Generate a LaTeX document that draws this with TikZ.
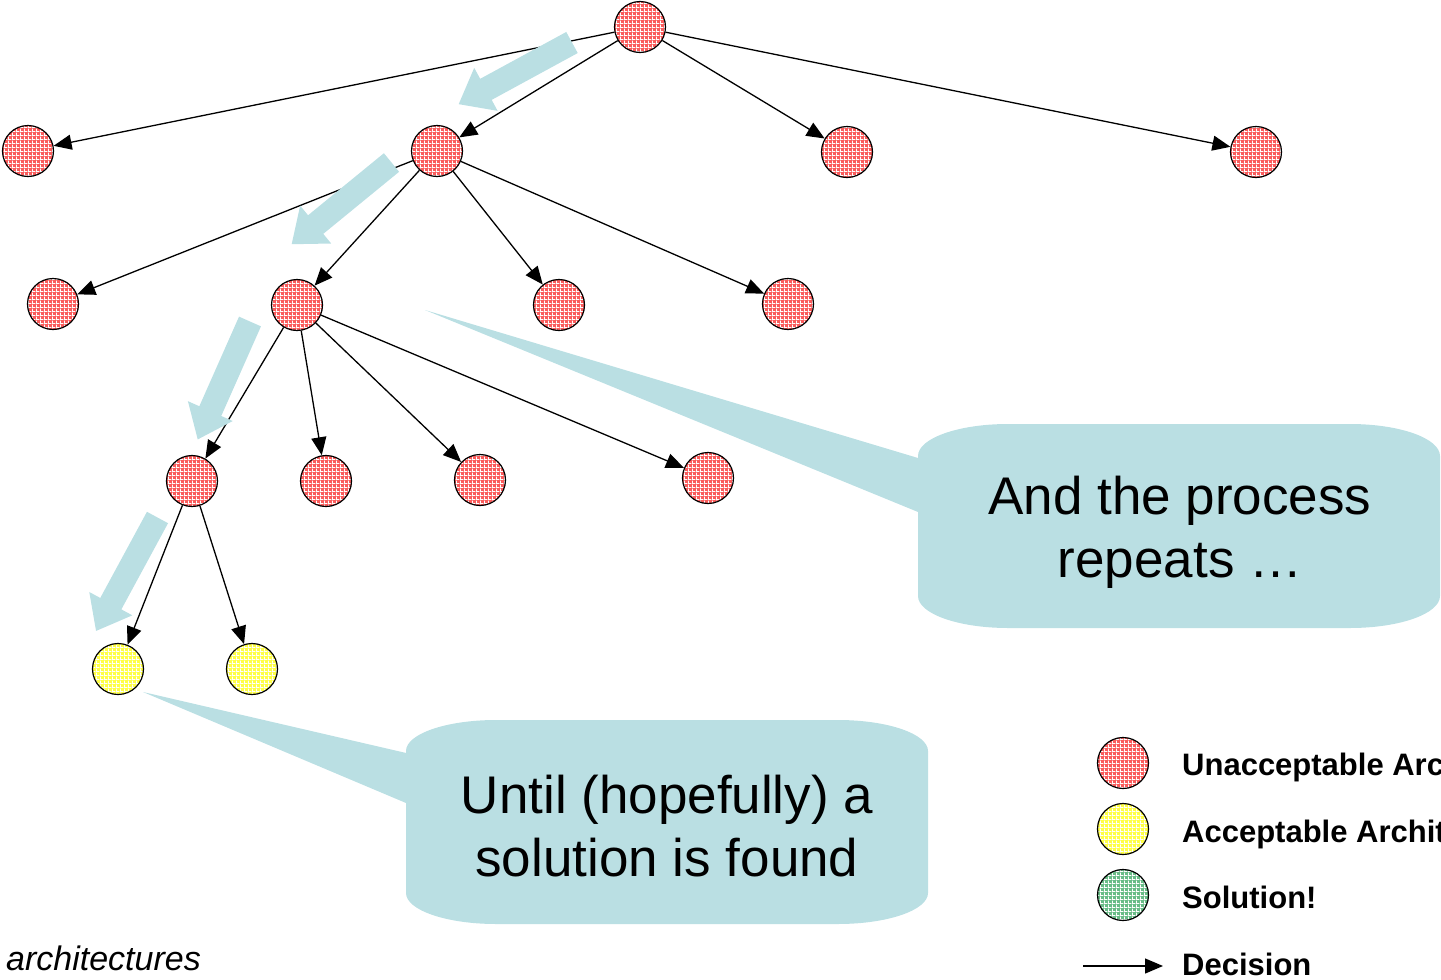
\documentclass[tikz,border=0pt]{standalone}
\usepackage{fontspec}
\setmainfont{Liberation Sans}
\usetikzlibrary{arrows.meta,patterns}
\definecolor{badfill}{RGB}{250,92,92}
\definecolor{okfill}{RGB}{255,255,70}
\definecolor{solfill}{RGB}{105,188,135}
\definecolor{calloutblue}{RGB}{186,223,227}
% fine white mesh laid over the state fills
\pgfdeclarepatternformonly{cellgrid}{\pgfpointorigin}{\pgfqpoint{4pt}{4pt}}{\pgfqpoint{4pt}{4pt}}{%
  \pgfpathrectangle{\pgfpointorigin}{\pgfqpoint{4pt}{1.1pt}}%
  \pgfpathrectangle{\pgfpointorigin}{\pgfqpoint{1.1pt}{4pt}}%
  \pgfusepath{fill}}
\tikzset{
  state/.style={circle, draw=black, line width=1.2pt, minimum size=51pt,
    inner sep=0pt, pattern=cellgrid, pattern color=white},
  bad/.style={state, preaction={fill=badfill}},
  ok/.style={state, preaction={fill=okfill}},
  sol/.style={state, preaction={fill=solfill}},
  decision/.style={line width=1.3pt, -{Triangle[length=18pt,width=15pt]}},
  bubbletext/.style={font=\fontsize{53}{63}\selectfont, anchor=base, inner sep=0pt},
  legendtext/.style={font=\fontsize{31}{37}\selectfont\bfseries, anchor=base west, inner sep=0pt},
  blockarrow/.pic={\fill[calloutblue] (0,-12) -- (98,-12) -- (98,-24.5) -- (129,0)
    -- (98,24.5) -- (98,12) -- (0,12) -- cycle;}
}
\begin{document}
\begin{tikzpicture}[x=1pt,y=-1pt]
\useasboundingbox (0,0) rectangle (1441,980);

% search tree
\node[bad] (r)   at (640,27) {};
\node[bad] (a1)  at (28,151) {};
\node[bad] (a2)  at (437,151) {};
\node[bad] (a3)  at (847,152) {};
\node[bad] (a4)  at (1256,152) {};
\node[bad] (b1)  at (53,304) {};
\node[bad] (b2)  at (297,305) {};
\node[bad] (b3)  at (559,305) {};
\node[bad] (b4)  at (788,304) {};
\node[bad] (c1)  at (192,481) {};
\node[bad] (c2)  at (326,481) {};
\node[bad] (c3)  at (480,480) {};
\node[bad] (c4)  at (708,478) {};
\node[ok]  (d1)  at (118,669) {};
\node[ok]  (d2)  at (252,669) {};

\foreach \p/\c in {r/a1, r/a2, r/a3, r/a4, a2/b1, a2/b2, a2/b3, a2/b4,
                   b2/c1, b2/c2, b2/c3, b2/c4, c1/d1, c1/d2}
  \draw[decision] (\p) -- (\c);

% path followed through the tree
\pic[rotate=208.56] at (572,42.5) {blockarrow};
\pic[rotate=219.3]  at (391.5,162.5) {blockarrow};
\pic[rotate=246.1]  at (250,321.5) {blockarrow};
\pic[rotate=241.55] at (157.5,517.5) {blockarrow};

% callout: the process repeats
\coordinate (tipA) at (425,310);
\fill[calloutblue] (tipA) -- (930,461.6) -- (930,516.9) -- cycle;
\fill[calloutblue] (1008,424) -- (1350,424) .. controls (1399.7,424) and (1440,438.3) .. (1440,456)
  -- (1440,596) .. controls (1440,613.7) and (1399.7,628) .. (1350,628)
  -- (1008,628) .. controls (958.3,628) and (918,613.7) .. (918,596)
  -- (918,456) .. controls (918,438.3) and (958.3,424) .. (1008,424) -- cycle;
\node[bubbletext] (rep1) at (1180,514) {And the process};
\node[bubbletext] (rep2) at (1180,577) {repeats …};

% callout: a solution is found
\coordinate (tipB) at (143,692);
\fill[calloutblue] (tipB) -- (420,756.2) -- (420,808.9) -- cycle;
\fill[calloutblue] (496,720) -- (838,720) .. controls (887.7,720) and (928,733.9) .. (928,751)
  -- (928,893) .. controls (928,910.1) and (887.7,924) .. (838,924)
  -- (496,924) .. controls (446.3,924) and (406,910.1) .. (406,893)
  -- (406,751) .. controls (406,733.9) and (446.3,720) .. (496,720) -- cycle;
\node[bubbletext] (sol1) at (667,813) {Until (hopefully) a};
\node[bubbletext] (sol2) at (667,876) {solution is found};

% legend
\node[bad] (kbad) at (1123,763) {};
\node[ok]  (kok)  at (1123,829) {};
\node[sol] (ksol) at (1123,895) {};
\coordinate (ka) at (1083,966);
\coordinate (kb) at (1163,966);
\draw[decision] (ka) -- (kb);
\node[legendtext] (tbad) at (1182,775) {Unacceptable Architectures};
\node[legendtext] (tok)  at (1182,842) {Acceptable Architectures};
\node[legendtext] (tsol) at (1182,908) {Solution!};
\node[legendtext] (tdec) at (1182,975) {Decision};

% caption fragment
\node[font=\fontsize{34}{40}\selectfont\itshape, anchor=base west, inner sep=0pt]
  (cap) at (6,970) {architectures};
\end{tikzpicture}
\end{document}
